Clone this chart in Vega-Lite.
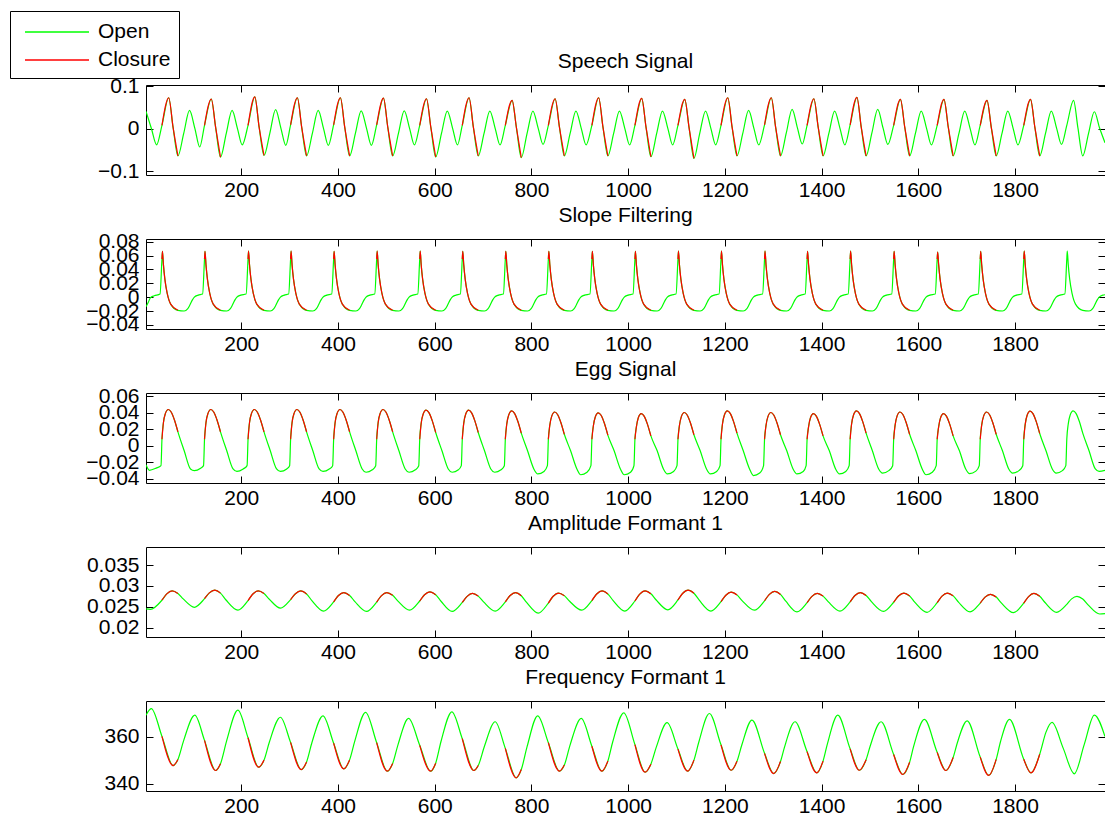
{
"$schema": "https://vega.github.io/schema/vega-lite/v6.json",
"background": "white",
"padding": {"left": 9, "top": 10, "right": 0, "bottom": 0},
"bounds": "flush",
"spacing": 64,
"datasets": {
"speech": [{"x":3,"y":0.041},{"x":14,"y":0.001},{"x":25,"y":-0.038},
{"x":36,"y":0.008,"c":0},{"x":50,"y":0.073,"c":0},{"x":59,"y":0.003,"c":0},{"x":69,"y":-0.064,"c":0},{"x":81,"y":-0.011},{"x":93,"y":0.043},{"x":104,"y":0.001},{"x":114,"y":-0.043},
{"x":124,"y":0.008,"c":1},{"x":138,"y":0.070,"c":1},{"x":147,"y":0.003,"c":1},{"x":157,"y":-0.067,"c":1},{"x":169,"y":-0.011},{"x":181,"y":0.043},{"x":192,"y":0.001},{"x":202,"y":-0.038},
{"x":214,"y":0.008,"c":2},{"x":228,"y":0.075,"c":2},{"x":237,"y":0.003,"c":2},{"x":247,"y":-0.063,"c":2},{"x":259,"y":-0.011},{"x":271,"y":0.045},{"x":282,"y":0.001},{"x":292,"y":-0.039},
{"x":302,"y":0.009,"c":3},{"x":316,"y":0.073,"c":3},{"x":325,"y":0.003,"c":3},{"x":335,"y":-0.064,"c":3},{"x":347,"y":-0.011},{"x":359,"y":0.043},{"x":370,"y":0.001},{"x":380,"y":-0.039},
{"x":391,"y":0.009,"c":4},{"x":405,"y":0.073,"c":4},{"x":414,"y":0.003,"c":4},{"x":424,"y":-0.064,"c":4},{"x":436,"y":-0.011},{"x":448,"y":0.042},{"x":459,"y":0.001},{"x":469,"y":-0.039},
{"x":480,"y":0.009,"c":5},{"x":494,"y":0.072,"c":5},{"x":503,"y":0.003,"c":5},{"x":513,"y":-0.064,"c":5},{"x":525,"y":-0.011},{"x":537,"y":0.042},{"x":548,"y":0.001},{"x":558,"y":-0.038},
{"x":569,"y":0.008,"c":6},{"x":583,"y":0.0706,"c":6},{"x":592,"y":0.003,"c":6},{"x":602,"y":-0.0666,"c":6},{"x":614,"y":-0.011},{"x":626,"y":0.0416},{"x":637,"y":0.001},{"x":647,"y":-0.038},
{"x":657,"y":0.008,"c":7},{"x":671,"y":0.073,"c":7},{"x":680,"y":0.003,"c":7},{"x":690,"y":-0.064,"c":7},{"x":702,"y":-0.011},{"x":714,"y":0.0416},{"x":725,"y":0.001},{"x":735,"y":-0.038},
{"x":746,"y":0.008,"c":8},{"x":760,"y":0.067,"c":8},{"x":769,"y":0.002,"c":8},{"x":779,"y":-0.068,"c":8},{"x":791,"y":-0.011},{"x":803,"y":0.0416},{"x":814,"y":0.001},{"x":824,"y":-0.037},
{"x":835,"y":0.008,"c":9},{"x":849,"y":0.0706,"c":9},{"x":858,"y":0.003,"c":9},{"x":868,"y":-0.064,"c":9},{"x":880,"y":-0.011},{"x":892,"y":0.0416},{"x":903,"y":0.001},{"x":913,"y":-0.038},
{"x":925,"y":0.008,"c":10},{"x":939,"y":0.073,"c":10},{"x":948,"y":0.003,"c":10},{"x":958,"y":-0.064,"c":10},{"x":970,"y":-0.011},{"x":982,"y":0.0416},{"x":993,"y":0.001},{"x":1003,"y":-0.038},
{"x":1014,"y":0.008,"c":11},{"x":1028,"y":0.0715,"c":11},{"x":1037,"y":0.003,"c":11},{"x":1047,"y":-0.066,"c":11},{"x":1059,"y":-0.011},{"x":1071,"y":0.0416},{"x":1082,"y":0.001},{"x":1092,"y":-0.038},
{"x":1103,"y":0.008,"c":12},{"x":1117,"y":0.069,"c":12},{"x":1126,"y":0.002,"c":12},{"x":1136,"y":-0.070,"c":12},{"x":1148,"y":-0.011},{"x":1160,"y":0.0416},{"x":1171,"y":0.001},{"x":1181,"y":-0.038},
{"x":1192,"y":0.008,"c":13},{"x":1206,"y":0.073,"c":13},{"x":1215,"y":0.003,"c":13},{"x":1225,"y":-0.064,"c":13},{"x":1237,"y":-0.011},{"x":1249,"y":0.043},{"x":1260,"y":0.001},{"x":1270,"y":-0.038},
{"x":1282,"y":0.009,"c":14},{"x":1296,"y":0.073,"c":14},{"x":1305,"y":0.003,"c":14},{"x":1315,"y":-0.064,"c":14},{"x":1327,"y":-0.010},{"x":1339,"y":0.0456},{"x":1350,"y":0.002},{"x":1360,"y":-0.036},
{"x":1370,"y":0.008,"c":15},{"x":1384,"y":0.0706,"c":15},{"x":1393,"y":0.003,"c":15},{"x":1403,"y":-0.064,"c":15},{"x":1415,"y":-0.011},{"x":1427,"y":0.0416},{"x":1438,"y":0.001},{"x":1448,"y":-0.038},
{"x":1459,"y":0.009,"c":16},{"x":1473,"y":0.074,"c":16},{"x":1482,"y":0.003,"c":16},{"x":1492,"y":-0.064,"c":16},{"x":1504,"y":-0.010},{"x":1516,"y":0.0456},{"x":1527,"y":0.002},{"x":1537,"y":-0.037},
{"x":1549,"y":0.008,"c":17},{"x":1563,"y":0.069,"c":17},{"x":1572,"y":0.003,"c":17},{"x":1582,"y":-0.064,"c":17},{"x":1594,"y":-0.011},{"x":1606,"y":0.0416},{"x":1617,"y":0.001},{"x":1627,"y":-0.038},
{"x":1639,"y":0.008,"c":18},{"x":1653,"y":0.069,"c":18},{"x":1662,"y":0.003,"c":18},{"x":1672,"y":-0.064,"c":18},{"x":1684,"y":-0.011},{"x":1696,"y":0.0416},{"x":1707,"y":0.001},{"x":1717,"y":-0.038},
{"x":1728,"y":0.008,"c":19},{"x":1742,"y":0.067,"c":19},{"x":1751,"y":0.002,"c":19},{"x":1761,"y":-0.064,"c":19},{"x":1773,"y":-0.011},{"x":1785,"y":0.0416},{"x":1796,"y":0.001},{"x":1806,"y":-0.038},
{"x":1818,"y":0.008,"c":20},{"x":1832,"y":0.069,"c":20},{"x":1841,"y":0.003,"c":20},{"x":1851,"y":-0.064,"c":20},{"x":1863,"y":-0.011},{"x":1875,"y":0.0416},{"x":1886,"y":0.001},{"x":1896,"y":-0.037},
{"x":1907,"y":0.008},{"x":1921,"y":0.067},{"x":1930,"y":0.002},{"x":1940,"y":-0.064},{"x":1952,"y":-0.011},{"x":1964,"y":0.040},{"x":1975,"y":0.001},{"x":1986,"y":-0.033}],
"slope": [{"x":3,"y":-0.014},{"x":8,"y":-0.007},{"x":12,"y":-0.001},{"x":20,"y":0.002},{"x":32,"y":0.0045},
{"x":36,"y":0.055,"c":0},{"x":37,"y":0.066,"c":0},{"x":39,"y":0.047,"c":0},{"x":42,"y":0.026,"c":0},{"x":47,"y":0.005,"c":0},{"x":54,"y":-0.010,"c":0},{"x":69,"y":-0.019,"c":0},{"x":82,"y":-0.020},{"x":89,"y":-0.017},{"x":94,"y":-0.011},{"x":99,"y":-0.004},{"x":103,"y":0.000},{"x":111,"y":0.003},{"x":120,"y":0.0045},
{"x":124,"y":0.055,"c":1},{"x":125,"y":0.066,"c":1},{"x":127,"y":0.047,"c":1},{"x":130,"y":0.026,"c":1},{"x":135,"y":0.005,"c":1},{"x":142,"y":-0.010,"c":1},{"x":157,"y":-0.019,"c":1},{"x":170,"y":-0.020},{"x":177,"y":-0.017},{"x":182,"y":-0.011},{"x":187,"y":-0.004},{"x":191,"y":0.000},{"x":199,"y":0.003},{"x":210,"y":0.0045},
{"x":214,"y":0.055,"c":2},{"x":215,"y":0.0667,"c":2},{"x":217,"y":0.047,"c":2},{"x":220,"y":0.026,"c":2},{"x":225,"y":0.005,"c":2},{"x":232,"y":-0.010,"c":2},{"x":247,"y":-0.019,"c":2},{"x":260,"y":-0.020},{"x":267,"y":-0.017},{"x":272,"y":-0.011},{"x":277,"y":-0.004},{"x":281,"y":0.000},{"x":289,"y":0.003},{"x":298,"y":0.0045},
{"x":302,"y":0.055,"c":3},{"x":303,"y":0.0667,"c":3},{"x":305,"y":0.047,"c":3},{"x":308,"y":0.026,"c":3},{"x":313,"y":0.005,"c":3},{"x":320,"y":-0.010,"c":3},{"x":335,"y":-0.019,"c":3},{"x":348,"y":-0.020},{"x":355,"y":-0.017},{"x":360,"y":-0.011},{"x":365,"y":-0.004},{"x":369,"y":0.000},{"x":377,"y":0.003},{"x":387,"y":0.0045},
{"x":391,"y":0.055,"c":4},{"x":392,"y":0.066,"c":4},{"x":394,"y":0.047,"c":4},{"x":397,"y":0.026,"c":4},{"x":402,"y":0.005,"c":4},{"x":409,"y":-0.010,"c":4},{"x":424,"y":-0.019,"c":4},{"x":437,"y":-0.020},{"x":444,"y":-0.017},{"x":449,"y":-0.011},{"x":454,"y":-0.004},{"x":458,"y":0.000},{"x":466,"y":0.003},{"x":476,"y":0.0045},
{"x":480,"y":0.055,"c":5},{"x":481,"y":0.0667,"c":5},{"x":483,"y":0.047,"c":5},{"x":486,"y":0.026,"c":5},{"x":491,"y":0.005,"c":5},{"x":498,"y":-0.010,"c":5},{"x":513,"y":-0.019,"c":5},{"x":526,"y":-0.020},{"x":533,"y":-0.017},{"x":538,"y":-0.011},{"x":543,"y":-0.004},{"x":547,"y":0.000},{"x":555,"y":0.003},{"x":565,"y":0.0045},
{"x":569,"y":0.055,"c":6},{"x":570,"y":0.0667,"c":6},{"x":572,"y":0.047,"c":6},{"x":575,"y":0.026,"c":6},{"x":580,"y":0.005,"c":6},{"x":587,"y":-0.010,"c":6},{"x":602,"y":-0.019,"c":6},{"x":615,"y":-0.020},{"x":622,"y":-0.017},{"x":627,"y":-0.011},{"x":632,"y":-0.004},{"x":636,"y":0.000},{"x":644,"y":0.003},{"x":653,"y":0.0045},
{"x":657,"y":0.055,"c":7},{"x":658,"y":0.066,"c":7},{"x":660,"y":0.047,"c":7},{"x":663,"y":0.026,"c":7},{"x":668,"y":0.005,"c":7},{"x":675,"y":-0.010,"c":7},{"x":690,"y":-0.019,"c":7},{"x":703,"y":-0.020},{"x":710,"y":-0.017},{"x":715,"y":-0.011},{"x":720,"y":-0.004},{"x":724,"y":0.000},{"x":732,"y":0.003},{"x":742,"y":0.0045},
{"x":746,"y":0.055,"c":8},{"x":747,"y":0.066,"c":8},{"x":749,"y":0.047,"c":8},{"x":752,"y":0.026,"c":8},{"x":757,"y":0.005,"c":8},{"x":764,"y":-0.010,"c":8},{"x":779,"y":-0.019,"c":8},{"x":792,"y":-0.020},{"x":799,"y":-0.017},{"x":804,"y":-0.011},{"x":809,"y":-0.004},{"x":813,"y":0.000},{"x":821,"y":0.003},{"x":831,"y":0.0045},
{"x":835,"y":0.055,"c":9},{"x":836,"y":0.066,"c":9},{"x":838,"y":0.047,"c":9},{"x":841,"y":0.026,"c":9},{"x":846,"y":0.005,"c":9},{"x":853,"y":-0.010,"c":9},{"x":868,"y":-0.019,"c":9},{"x":881,"y":-0.020},{"x":888,"y":-0.017},{"x":893,"y":-0.011},{"x":898,"y":-0.004},{"x":902,"y":0.000},{"x":910,"y":0.003},{"x":921,"y":0.0045},
{"x":925,"y":0.055,"c":10},{"x":926,"y":0.066,"c":10},{"x":928,"y":0.047,"c":10},{"x":931,"y":0.026,"c":10},{"x":936,"y":0.005,"c":10},{"x":943,"y":-0.010,"c":10},{"x":958,"y":-0.019,"c":10},{"x":971,"y":-0.020},{"x":978,"y":-0.017},{"x":983,"y":-0.011},{"x":988,"y":-0.004},{"x":992,"y":0.000},{"x":1000,"y":0.003},{"x":1010,"y":0.0045},
{"x":1014,"y":0.055,"c":11},{"x":1015,"y":0.066,"c":11},{"x":1017,"y":0.047,"c":11},{"x":1020,"y":0.026,"c":11},{"x":1025,"y":0.005,"c":11},{"x":1032,"y":-0.010,"c":11},{"x":1047,"y":-0.019,"c":11},{"x":1060,"y":-0.020},{"x":1067,"y":-0.017},{"x":1072,"y":-0.011},{"x":1077,"y":-0.004},{"x":1081,"y":0.000},{"x":1089,"y":0.003},{"x":1099,"y":0.0045},
{"x":1103,"y":0.055,"c":12},{"x":1104,"y":0.0667,"c":12},{"x":1106,"y":0.047,"c":12},{"x":1109,"y":0.026,"c":12},{"x":1114,"y":0.005,"c":12},{"x":1121,"y":-0.010,"c":12},{"x":1136,"y":-0.019,"c":12},{"x":1149,"y":-0.020},{"x":1156,"y":-0.017},{"x":1161,"y":-0.011},{"x":1166,"y":-0.004},{"x":1170,"y":0.000},{"x":1178,"y":0.003},{"x":1188,"y":0.0045},
{"x":1192,"y":0.055,"c":13},{"x":1193,"y":0.0667,"c":13},{"x":1195,"y":0.047,"c":13},{"x":1198,"y":0.026,"c":13},{"x":1203,"y":0.005,"c":13},{"x":1210,"y":-0.010,"c":13},{"x":1225,"y":-0.019,"c":13},{"x":1238,"y":-0.020},{"x":1245,"y":-0.017},{"x":1250,"y":-0.011},{"x":1255,"y":-0.004},{"x":1259,"y":0.000},{"x":1267,"y":0.003},{"x":1278,"y":0.0045},
{"x":1282,"y":0.055,"c":14},{"x":1283,"y":0.0667,"c":14},{"x":1285,"y":0.047,"c":14},{"x":1288,"y":0.026,"c":14},{"x":1293,"y":0.005,"c":14},{"x":1300,"y":-0.010,"c":14},{"x":1315,"y":-0.019,"c":14},{"x":1328,"y":-0.020},{"x":1335,"y":-0.017},{"x":1340,"y":-0.011},{"x":1345,"y":-0.004},{"x":1349,"y":0.000},{"x":1357,"y":0.003},{"x":1366,"y":0.0045},
{"x":1370,"y":0.055,"c":15},{"x":1371,"y":0.066,"c":15},{"x":1373,"y":0.047,"c":15},{"x":1376,"y":0.026,"c":15},{"x":1381,"y":0.005,"c":15},{"x":1388,"y":-0.010,"c":15},{"x":1403,"y":-0.019,"c":15},{"x":1416,"y":-0.020},{"x":1423,"y":-0.017},{"x":1428,"y":-0.011},{"x":1433,"y":-0.004},{"x":1437,"y":0.000},{"x":1445,"y":0.003},{"x":1455,"y":0.0045},
{"x":1459,"y":0.055,"c":16},{"x":1460,"y":0.0667,"c":16},{"x":1462,"y":0.047,"c":16},{"x":1465,"y":0.026,"c":16},{"x":1470,"y":0.005,"c":16},{"x":1477,"y":-0.010,"c":16},{"x":1492,"y":-0.019,"c":16},{"x":1505,"y":-0.020},{"x":1512,"y":-0.017},{"x":1517,"y":-0.011},{"x":1522,"y":-0.004},{"x":1526,"y":0.000},{"x":1534,"y":0.003},{"x":1545,"y":0.0045},
{"x":1549,"y":0.055,"c":17},{"x":1550,"y":0.066,"c":17},{"x":1552,"y":0.047,"c":17},{"x":1555,"y":0.026,"c":17},{"x":1560,"y":0.005,"c":17},{"x":1567,"y":-0.010,"c":17},{"x":1582,"y":-0.019,"c":17},{"x":1595,"y":-0.020},{"x":1602,"y":-0.017},{"x":1607,"y":-0.011},{"x":1612,"y":-0.004},{"x":1616,"y":0.000},{"x":1624,"y":0.003},{"x":1635,"y":0.0045},
{"x":1639,"y":0.055,"c":18},{"x":1640,"y":0.065,"c":18},{"x":1642,"y":0.047,"c":18},{"x":1645,"y":0.026,"c":18},{"x":1650,"y":0.005,"c":18},{"x":1657,"y":-0.010,"c":18},{"x":1672,"y":-0.019,"c":18},{"x":1685,"y":-0.020},{"x":1692,"y":-0.017},{"x":1697,"y":-0.011},{"x":1702,"y":-0.004},{"x":1706,"y":0.000},{"x":1714,"y":0.003},{"x":1724,"y":0.0045},
{"x":1728,"y":0.055,"c":19},{"x":1729,"y":0.066,"c":19},{"x":1731,"y":0.047,"c":19},{"x":1734,"y":0.026,"c":19},{"x":1739,"y":0.005,"c":19},{"x":1746,"y":-0.010,"c":19},{"x":1761,"y":-0.019,"c":19},{"x":1774,"y":-0.020},{"x":1781,"y":-0.017},{"x":1786,"y":-0.011},{"x":1791,"y":-0.004},{"x":1795,"y":0.000},{"x":1803,"y":0.003},{"x":1814,"y":0.0045},
{"x":1818,"y":0.055,"c":20},{"x":1819,"y":0.0667,"c":20},{"x":1821,"y":0.047,"c":20},{"x":1824,"y":0.026,"c":20},{"x":1829,"y":0.005,"c":20},{"x":1836,"y":-0.010,"c":20},{"x":1851,"y":-0.019,"c":20},{"x":1864,"y":-0.020},{"x":1871,"y":-0.017},{"x":1876,"y":-0.011},{"x":1881,"y":-0.004},{"x":1885,"y":0.000},{"x":1893,"y":0.003},{"x":1903,"y":0.0045},
{"x":1907,"y":0.055},{"x":1908,"y":0.0667},{"x":1910,"y":0.047},{"x":1913,"y":0.026},{"x":1918,"y":0.005},{"x":1925,"y":-0.010},{"x":1940,"y":-0.019},{"x":1953,"y":-0.020},{"x":1960,"y":-0.017},{"x":1965,"y":-0.011},{"x":1970,"y":-0.004},{"x":1974,"y":0.000},{"x":1982,"y":0.003},{"x":1986,"y":0.0035}],
"egg": [{"x":3,"y":-0.023},{"x":10,"y":-0.0296},{"x":24,"y":-0.027},
{"x":34,"y":-0.024},{"x":36,"y":0.008,"c":0},{"x":39,"y":0.028,"c":0},{"x":43,"y":0.039,"c":0},{"x":49,"y":0.044,"c":0},{"x":55,"y":0.041,"c":0},{"x":62,"y":0.031,"c":0},{"x":69,"y":0.017,"c":0},{"x":82,"y":-0.006},{"x":95,"y":-0.028},{"x":103,"y":-0.030},{"x":116,"y":-0.027},
{"x":122,"y":-0.024},{"x":124,"y":0.008,"c":1},{"x":127,"y":0.028,"c":1},{"x":131,"y":0.039,"c":1},{"x":137,"y":0.044,"c":1},{"x":143,"y":0.041,"c":1},{"x":150,"y":0.031,"c":1},{"x":157,"y":0.017,"c":1},{"x":170,"y":-0.006},{"x":183,"y":-0.028},{"x":191,"y":-0.031},{"x":204,"y":-0.028},
{"x":212,"y":-0.024},{"x":214,"y":0.008,"c":2},{"x":217,"y":0.028,"c":2},{"x":221,"y":0.039,"c":2},{"x":227,"y":0.044,"c":2},{"x":233,"y":0.041,"c":2},{"x":240,"y":0.031,"c":2},{"x":247,"y":0.017,"c":2},{"x":260,"y":-0.006},{"x":273,"y":-0.028},{"x":281,"y":-0.031},{"x":294,"y":-0.028},
{"x":300,"y":-0.024},{"x":302,"y":0.008,"c":3},{"x":305,"y":0.028,"c":3},{"x":309,"y":0.039,"c":3},{"x":315,"y":0.044,"c":3},{"x":321,"y":0.041,"c":3},{"x":328,"y":0.031,"c":3},{"x":335,"y":0.017,"c":3},{"x":348,"y":-0.006},{"x":361,"y":-0.028},{"x":369,"y":-0.031},{"x":382,"y":-0.028},
{"x":389,"y":-0.024},{"x":391,"y":0.008,"c":4},{"x":394,"y":0.028,"c":4},{"x":398,"y":0.039,"c":4},{"x":404,"y":0.044,"c":4},{"x":410,"y":0.041,"c":4},{"x":417,"y":0.031,"c":4},{"x":424,"y":0.017,"c":4},{"x":437,"y":-0.006},{"x":450,"y":-0.028},{"x":458,"y":-0.032},{"x":471,"y":-0.029},
{"x":478,"y":-0.024},{"x":480,"y":0.008,"c":5},{"x":483,"y":0.028,"c":5},{"x":487,"y":0.039,"c":5},{"x":493,"y":0.044,"c":5},{"x":499,"y":0.041,"c":5},{"x":506,"y":0.031,"c":5},{"x":513,"y":0.017,"c":5},{"x":526,"y":-0.006},{"x":539,"y":-0.028},{"x":547,"y":-0.032},{"x":560,"y":-0.029},
{"x":567,"y":-0.024},{"x":569,"y":0.008,"c":6},{"x":572,"y":0.0272,"c":6},{"x":576,"y":0.0382,"c":6},{"x":582,"y":0.0432,"c":6},{"x":588,"y":0.0402,"c":6},{"x":595,"y":0.0302,"c":6},{"x":602,"y":0.0162,"c":6},{"x":615,"y":-0.006},{"x":628,"y":-0.028},{"x":636,"y":-0.032},{"x":649,"y":-0.029},
{"x":655,"y":-0.024},{"x":657,"y":0.008,"c":7},{"x":660,"y":0.0272,"c":7},{"x":664,"y":0.0382,"c":7},{"x":670,"y":0.0432,"c":7},{"x":676,"y":0.0402,"c":7},{"x":683,"y":0.0302,"c":7},{"x":690,"y":0.0162,"c":7},{"x":703,"y":-0.006},{"x":716,"y":-0.028},{"x":724,"y":-0.032},{"x":737,"y":-0.029},
{"x":744,"y":-0.024},{"x":746,"y":0.008,"c":8},{"x":749,"y":0.0264,"c":8},{"x":753,"y":0.0374,"c":8},{"x":759,"y":0.0424,"c":8},{"x":765,"y":0.0394,"c":8},{"x":772,"y":0.0294,"c":8},{"x":779,"y":0.0154,"c":8},{"x":792,"y":-0.006},{"x":805,"y":-0.028},{"x":813,"y":-0.034},{"x":826,"y":-0.031},
{"x":833,"y":-0.024},{"x":835,"y":0.008,"c":9},{"x":838,"y":0.025,"c":9},{"x":842,"y":0.036,"c":9},{"x":848,"y":0.041,"c":9},{"x":854,"y":0.038,"c":9},{"x":861,"y":0.028,"c":9},{"x":868,"y":0.014,"c":9},{"x":881,"y":-0.006},{"x":894,"y":-0.028},{"x":902,"y":-0.035},{"x":915,"y":-0.032},
{"x":923,"y":-0.024},{"x":925,"y":0.008,"c":10},{"x":928,"y":0.024,"c":10},{"x":932,"y":0.035,"c":10},{"x":938,"y":0.040,"c":10},{"x":944,"y":0.037,"c":10},{"x":951,"y":0.027,"c":10},{"x":958,"y":0.013,"c":10},{"x":971,"y":-0.006},{"x":984,"y":-0.028},{"x":992,"y":-0.035},{"x":1005,"y":-0.032},
{"x":1012,"y":-0.024},{"x":1014,"y":0.008,"c":11},{"x":1017,"y":0.023,"c":11},{"x":1021,"y":0.034,"c":11},{"x":1027,"y":0.039,"c":11},{"x":1033,"y":0.036,"c":11},{"x":1040,"y":0.026,"c":11},{"x":1047,"y":0.012,"c":11},{"x":1060,"y":-0.006},{"x":1073,"y":-0.028},{"x":1081,"y":-0.034},{"x":1094,"y":-0.031},
{"x":1101,"y":-0.024},{"x":1103,"y":0.008,"c":12},{"x":1106,"y":0.0244,"c":12},{"x":1110,"y":0.0354,"c":12},{"x":1116,"y":0.0404,"c":12},{"x":1122,"y":0.0374,"c":12},{"x":1129,"y":0.0274,"c":12},{"x":1136,"y":0.0134,"c":12},{"x":1149,"y":-0.006},{"x":1162,"y":-0.028},{"x":1170,"y":-0.034},{"x":1183,"y":-0.031},
{"x":1190,"y":-0.024},{"x":1192,"y":0.008,"c":13},{"x":1195,"y":0.0264,"c":13},{"x":1199,"y":0.0374,"c":13},{"x":1205,"y":0.0424,"c":13},{"x":1211,"y":0.0394,"c":13},{"x":1218,"y":0.0294,"c":13},{"x":1225,"y":0.0154,"c":13},{"x":1238,"y":-0.006},{"x":1251,"y":-0.028},{"x":1259,"y":-0.036},{"x":1272,"y":-0.033},
{"x":1280,"y":-0.024},{"x":1282,"y":0.008,"c":14},{"x":1285,"y":0.0244,"c":14},{"x":1289,"y":0.0354,"c":14},{"x":1295,"y":0.0404,"c":14},{"x":1301,"y":0.0374,"c":14},{"x":1308,"y":0.0274,"c":14},{"x":1315,"y":0.0134,"c":14},{"x":1328,"y":-0.006},{"x":1341,"y":-0.028},{"x":1349,"y":-0.034},{"x":1362,"y":-0.031},
{"x":1368,"y":-0.024},{"x":1370,"y":0.008,"c":15},{"x":1373,"y":0.023,"c":15},{"x":1377,"y":0.034,"c":15},{"x":1383,"y":0.039,"c":15},{"x":1389,"y":0.036,"c":15},{"x":1396,"y":0.026,"c":15},{"x":1403,"y":0.012,"c":15},{"x":1416,"y":-0.006},{"x":1429,"y":-0.028},{"x":1437,"y":-0.034},{"x":1450,"y":-0.031},
{"x":1457,"y":-0.024},{"x":1459,"y":0.008,"c":16},{"x":1462,"y":0.0264,"c":16},{"x":1466,"y":0.0374,"c":16},{"x":1472,"y":0.0424,"c":16},{"x":1478,"y":0.0394,"c":16},{"x":1485,"y":0.0294,"c":16},{"x":1492,"y":0.0154,"c":16},{"x":1505,"y":-0.006},{"x":1518,"y":-0.028},{"x":1526,"y":-0.033},{"x":1539,"y":-0.030},
{"x":1547,"y":-0.024},{"x":1549,"y":0.008,"c":17},{"x":1552,"y":0.025,"c":17},{"x":1556,"y":0.036,"c":17},{"x":1562,"y":0.041,"c":17},{"x":1568,"y":0.038,"c":17},{"x":1575,"y":0.028,"c":17},{"x":1582,"y":0.014,"c":17},{"x":1595,"y":-0.006},{"x":1608,"y":-0.028},{"x":1616,"y":-0.035},{"x":1629,"y":-0.032},
{"x":1637,"y":-0.024},{"x":1639,"y":0.008,"c":18},{"x":1642,"y":0.023,"c":18},{"x":1646,"y":0.034,"c":18},{"x":1652,"y":0.039,"c":18},{"x":1658,"y":0.036,"c":18},{"x":1665,"y":0.026,"c":18},{"x":1672,"y":0.012,"c":18},{"x":1685,"y":-0.006},{"x":1698,"y":-0.028},{"x":1706,"y":-0.0336},{"x":1719,"y":-0.0306},
{"x":1726,"y":-0.024},{"x":1728,"y":0.008,"c":19},{"x":1731,"y":0.025,"c":19},{"x":1735,"y":0.036,"c":19},{"x":1741,"y":0.041,"c":19},{"x":1747,"y":0.038,"c":19},{"x":1754,"y":0.028,"c":19},{"x":1761,"y":0.014,"c":19},{"x":1774,"y":-0.006},{"x":1787,"y":-0.028},{"x":1795,"y":-0.033},{"x":1808,"y":-0.030},
{"x":1816,"y":-0.024},{"x":1818,"y":0.008,"c":20},{"x":1821,"y":0.026,"c":20},{"x":1825,"y":0.037,"c":20},{"x":1831,"y":0.042,"c":20},{"x":1837,"y":0.039,"c":20},{"x":1844,"y":0.029,"c":20},{"x":1851,"y":0.015,"c":20},{"x":1864,"y":-0.006},{"x":1877,"y":-0.028},{"x":1885,"y":-0.033},{"x":1898,"y":-0.030},
{"x":1905,"y":-0.024},{"x":1907,"y":0.008},{"x":1910,"y":0.0264},{"x":1914,"y":0.0374},{"x":1920,"y":0.0424},{"x":1926,"y":0.0394},{"x":1933,"y":0.0294},{"x":1940,"y":0.0154},{"x":1953,"y":-0.006},{"x":1966,"y":-0.028},{"x":1974,"y":-0.031},{"x":1986,"y":-0.0296}],
"amp": [{"x":3,"y":0.0245},{"x":12,"y":0.0244},
{"x":36,"y":0.0266,"c":0},{"x":46,"y":0.0281,"c":0},{"x":57,"y":0.0288,"c":0},{"x":69,"y":0.0282,"c":0},{"x":80,"y":0.0269},{"x":103,"y":0.0249},
{"x":124,"y":0.02695,"c":1},{"x":134,"y":0.02834,"c":1},{"x":145,"y":0.0290,"c":1},{"x":157,"y":0.02828,"c":1},{"x":168,"y":0.0267},{"x":193,"y":0.0242},
{"x":214,"y":0.0265,"c":2},{"x":224,"y":0.02806,"c":2},{"x":235,"y":0.0288,"c":2},{"x":247,"y":0.02818,"c":2},{"x":258,"y":0.02683},{"x":281,"y":0.0247},
{"x":302,"y":0.02675,"c":3},{"x":312,"y":0.02814,"c":3},{"x":323,"y":0.0288,"c":3},{"x":335,"y":0.02808,"c":3},{"x":346,"y":0.0265},{"x":370,"y":0.0240},
{"x":391,"y":0.0262,"c":4},{"x":401,"y":0.0277,"c":4},{"x":412,"y":0.0284,"c":4},{"x":424,"y":0.02773,"c":4},{"x":435,"y":0.02624},{"x":459,"y":0.0239},
{"x":480,"y":0.02615,"c":5},{"x":490,"y":0.02768,"c":5},{"x":501,"y":0.0284,"c":5},{"x":513,"y":0.02777,"c":5},{"x":524,"y":0.02638},{"x":548,"y":0.0242},
{"x":569,"y":0.0264,"c":6},{"x":579,"y":0.0279,"c":6},{"x":590,"y":0.0286,"c":6},{"x":602,"y":0.0279,"c":6},{"x":613,"y":0.02634},{"x":636,"y":0.0239},
{"x":657,"y":0.02605,"c":7},{"x":667,"y":0.02751,"c":7},{"x":678,"y":0.0282,"c":7},{"x":690,"y":0.02757,"c":7},{"x":701,"y":0.0262},{"x":725,"y":0.0240},
{"x":746,"y":0.0262,"c":8},{"x":756,"y":0.0277,"c":8},{"x":767,"y":0.0284,"c":8},{"x":779,"y":0.02767,"c":8},{"x":790,"y":0.02605},{"x":814,"y":0.0235},
{"x":835,"y":0.0259,"c":9},{"x":845,"y":0.02753,"c":9},{"x":856,"y":0.0283,"c":9},{"x":868,"y":0.02768,"c":9},{"x":879,"y":0.02633},{"x":904,"y":0.0242},
{"x":925,"y":0.0265,"c":10},{"x":935,"y":0.02806,"c":10},{"x":946,"y":0.0288,"c":10},{"x":958,"y":0.02808,"c":10},{"x":969,"y":0.0265},{"x":993,"y":0.0240},
{"x":1014,"y":0.0264,"c":11},{"x":1024,"y":0.02803,"c":11},{"x":1035,"y":0.0288,"c":11},{"x":1047,"y":0.02813,"c":11},{"x":1058,"y":0.02664},{"x":1082,"y":0.0243},
{"x":1103,"y":0.02665,"c":12},{"x":1113,"y":0.02825,"c":12},{"x":1124,"y":0.0290,"c":12},{"x":1136,"y":0.02825,"c":12},{"x":1147,"y":0.0266},{"x":1171,"y":0.0240},
{"x":1192,"y":0.02625,"c":13},{"x":1202,"y":0.02778,"c":13},{"x":1213,"y":0.0285,"c":13},{"x":1225,"y":0.02786,"c":13},{"x":1236,"y":0.02644},{"x":1261,"y":0.0242},
{"x":1282,"y":0.02645,"c":14},{"x":1292,"y":0.02798,"c":14},{"x":1303,"y":0.0287,"c":14},{"x":1315,"y":0.02797,"c":14},{"x":1326,"y":0.02635},{"x":1349,"y":0.0238},
{"x":1370,"y":0.0260,"c":15},{"x":1380,"y":0.0275,"c":15},{"x":1391,"y":0.0282,"c":15},{"x":1403,"y":0.02757,"c":15},{"x":1414,"y":0.0262},{"x":1438,"y":0.0240},
{"x":1459,"y":0.0262,"c":16},{"x":1469,"y":0.0277,"c":16},{"x":1480,"y":0.0284,"c":16},{"x":1492,"y":0.02773,"c":16},{"x":1503,"y":0.02624},{"x":1528,"y":0.0239},
{"x":1549,"y":0.0261,"c":17},{"x":1559,"y":0.0276,"c":17},{"x":1570,"y":0.0283,"c":17},{"x":1582,"y":0.02761,"c":17},{"x":1593,"y":0.02609},{"x":1618,"y":0.0237},
{"x":1639,"y":0.0260,"c":18},{"x":1649,"y":0.02756,"c":18},{"x":1660,"y":0.0283,"c":18},{"x":1672,"y":0.02763,"c":18},{"x":1683,"y":0.02614},{"x":1707,"y":0.0238},
{"x":1728,"y":0.0259,"c":19},{"x":1738,"y":0.02733,"c":19},{"x":1749,"y":0.0280,"c":19},{"x":1761,"y":0.02734,"c":19},{"x":1772,"y":0.02589},{"x":1797,"y":0.0236},
{"x":1818,"y":0.0259,"c":20},{"x":1828,"y":0.02746,"c":20},{"x":1839,"y":0.0282,"c":20},{"x":1851,"y":0.02753,"c":20},{"x":1862,"y":0.02604},{"x":1886,"y":0.0237},
{"x":1907,"y":0.0256},{"x":1917,"y":0.0269},{"x":1928,"y":0.0275},{"x":1940,"y":0.02687},{"x":1951,"y":0.02548},{"x":1975,"y":0.0233},{"x":1986,"y":0.0234}],
"freq": [{"x":3,"y":369.1},
{"x":14,"y":371.9},{"x":36,"y":360.1,"c":0},{"x":59,"y":347.7,"c":0},{"x":69,"y":350.3,"c":0},{"x":81,"y":358.4},
{"x":104,"y":369.1},{"x":124,"y":358.4,"c":1},{"x":147,"y":345.6,"c":1},{"x":157,"y":348.5,"c":1},{"x":170,"y":358.4},
{"x":193,"y":371.2},{"x":214,"y":359.5,"c":2},{"x":236,"y":347.0,"c":2},{"x":247,"y":350.0,"c":2},{"x":258,"y":357.6},
{"x":281,"y":368.2},{"x":302,"y":357.5,"c":3},{"x":324,"y":346.0,"c":3},{"x":335,"y":349.2,"c":3},{"x":346,"y":357.4},
{"x":369,"y":368.8},{"x":391,"y":357.2,"c":4},{"x":412,"y":346.3,"c":4},{"x":424,"y":350.1,"c":4},{"x":435,"y":358.3},
{"x":457,"y":370.3},{"x":480,"y":357.4,"c":5},{"x":502,"y":345.3,"c":5},{"x":513,"y":348.6,"c":5},{"x":524,"y":356.5},
{"x":546,"y":367.7},{"x":569,"y":356.3,"c":6},{"x":591.5,"y":345.3,"c":6},{"x":602,"y":348.7,"c":6},{"x":613,"y":357.9},
{"x":635.5,"y":370.5},{"x":657,"y":359.1,"c":7},{"x":681,"y":345.6,"c":7},{"x":690,"y":347.7,"c":7},{"x":703,"y":356.0},
{"x":725,"y":366.3},{"x":746,"y":355.0,"c":8},{"x":768.5,"y":342.5,"c":8},{"x":779,"y":346.0,"c":8},{"x":791,"y":355.7},
{"x":813,"y":368.8},{"x":835,"y":357.4,"c":9},{"x":858,"y":345.3,"c":9},{"x":868,"y":347.9,"c":9},{"x":880,"y":356.5},
{"x":903,"y":367.7},{"x":925,"y":355.9,"c":10},{"x":945.6,"y":345.3,"c":10},{"x":958,"y":349.6,"c":10},{"x":968,"y":357.7},
{"x":991,"y":370.1},{"x":1014,"y":356.6,"c":11},{"x":1035,"y":344.9,"c":11},{"x":1047,"y":348.3,"c":11},{"x":1058,"y":355.4},
{"x":1080.6,"y":365.9},{"x":1103,"y":354.7,"c":12},{"x":1123,"y":345.3,"c":12},{"x":1136,"y":350.0,"c":12},{"x":1146,"y":357.6},
{"x":1168,"y":369.8},{"x":1192,"y":356.5,"c":13},{"x":1213,"y":345.7,"c":13},{"x":1225,"y":349.5,"c":13},{"x":1235,"y":356.4},
{"x":1256,"y":367.0},{"x":1282,"y":352.9,"c":14},{"x":1301,"y":344.3,"c":14},{"x":1315,"y":349.4,"c":14},{"x":1323,"y":355.3},
{"x":1345,"y":366.3},{"x":1370,"y":353.6,"c":15},{"x":1390,"y":344.6,"c":15},{"x":1403,"y":349.6,"c":15},{"x":1412,"y":356.9},
{"x":1433.5,"y":369.1},{"x":1459,"y":354.8,"c":16},{"x":1478,"y":345.7,"c":16},{"x":1492,"y":350.2,"c":16},{"x":1500.5,"y":356.0},
{"x":1523,"y":366.3},{"x":1549,"y":352.4,"c":17},{"x":1568,"y":343.9,"c":17},{"x":1582,"y":349.1,"c":17},{"x":1590,"y":355.6},
{"x":1612.6,"y":367.3},{"x":1639,"y":353.3,"c":18},{"x":1657,"y":345.6,"c":18},{"x":1672,"y":351.1,"c":18},{"x":1681,"y":357.6},
{"x":1701,"y":366.7},{"x":1728,"y":351.3,"c":19},{"x":1745.6,"y":343.5,"c":19},{"x":1761,"y":350.3,"c":19},{"x":1770,"y":357.9},
{"x":1788.5,"y":367.3},{"x":1818,"y":350.4,"c":20},{"x":1833,"y":344.6,"c":20},{"x":1851,"y":352.5,"c":20},{"x":1864,"y":361.9},
{"x":1876.5,"y":366.0},{"x":1899.5,"y":355.1},{"x":1922.6,"y":344.2},{"x":1943,"y":356.6},{"x":1964,"y":369.1},{"x":1986,"y":360.0}]
},
"vconcat": [
{"width":959,"height":90,"data":{"name":"speech"},"title":{"text":"Speech Signal","offset":3},
 "layer":[
  {"mark":{"type":"line","interpolate":"monotone","strokeWidth":1.2,"clip":true},
   "encoding":{"x":{"field":"x","type":"quantitative","title":null,"scale":{"domain":[3,1986],"nice":false,"zero":false},"axis":{"orient":"bottom","format":"d","values":[200,400,600,800,1000,1200,1400,1600,1800]}},
    "y":{"field":"y","type":"quantitative","title":null,"scale":{"domain":[-0.109,0.103],"nice":false,"zero":false},"axis":{"orient":"left","values":[-0.1,0,0.1],"format":"~g"}},
    "color":{"datum":"Open","type":"nominal","scale":{"domain":["Open","Closure"],"range":["#00ff00","#ff0000"]},"legend":{"title":null,"orient":"none","legendX":-136,"legendY":-74,"encoding":{"symbols":{"strokeWidth":{"value":1.5},"opacity":{"value":1},"fill":{"value":"transparent"},"stroke":{"value":{"expr":"scale('color', datum.value)"}}}}}}}},
  {"transform":[{"filter":"isValid(datum.c)"}],"mark":{"type":"line","interpolate":"monotone","strokeWidth":1.2,"clip":true},
   "encoding":{"x":{"field":"x","type":"quantitative","title":null,"axis":{"orient":"top","labels":false,"values":[200,400,600,800,1000,1200,1400,1600,1800]}},
    "y":{"field":"y","type":"quantitative","title":null,"axis":{"orient":"right","labels":false,"values":[-0.1,0,0.1]}},
    "detail":{"field":"c","type":"nominal"},
    "color":{"datum":"Closure","type":"nominal"}}}],
 "resolve":{"axis":{"x":"independent","y":"independent"}}},
{"width":959,"height":90,"data":{"name":"slope"},"title":{"text":"Slope Filtering","offset":5},
 "layer":[
  {"mark":{"type":"line","interpolate":"monotone","strokeWidth":1.2,"clip":true},
   "encoding":{"x":{"field":"x","type":"quantitative","title":null,"scale":{"domain":[3,1986],"nice":false,"zero":false},"axis":{"orient":"bottom","format":"d","values":[200,400,600,800,1000,1200,1400,1600,1800]}},
    "y":{"field":"y","type":"quantitative","title":null,"scale":{"domain":[-0.046,0.084],"nice":false,"zero":false},"axis":{"orient":"left","values":[-0.04,-0.02,0,0.02,0.04,0.06,0.08],"format":"~g"}},
    "color":{"datum":"Open","type":"nominal"}}},
  {"transform":[{"filter":"isValid(datum.c)"}],"mark":{"type":"line","interpolate":"monotone","strokeWidth":1.2,"clip":true},
   "encoding":{"x":{"field":"x","type":"quantitative","title":null,"axis":{"orient":"top","labels":false,"values":[200,400,600,800,1000,1200,1400,1600,1800]}},
    "y":{"field":"y","type":"quantitative","title":null,"axis":{"orient":"right","labels":false,"values":[-0.04,-0.02,0,0.02,0.04,0.06,0.08]}},
    "detail":{"field":"c","type":"nominal"},
    "color":{"datum":"Closure","type":"nominal"}}}],
 "resolve":{"axis":{"x":"independent","y":"independent"}}},
{"width":959,"height":90,"data":{"name":"egg"},"title":{"text":"Egg Signal","offset":5},
 "layer":[
  {"mark":{"type":"line","interpolate":"monotone","strokeWidth":1.2,"clip":true},
   "encoding":{"x":{"field":"x","type":"quantitative","title":null,"scale":{"domain":[3,1986],"nice":false,"zero":false},"axis":{"orient":"bottom","format":"d","values":[200,400,600,800,1000,1200,1400,1600,1800]}},
    "y":{"field":"y","type":"quantitative","title":null,"scale":{"domain":[-0.045,0.064],"nice":false,"zero":false},"axis":{"orient":"left","values":[-0.04,-0.02,0,0.02,0.04,0.06],"format":"~g"}},
    "color":{"datum":"Open","type":"nominal"}}},
  {"transform":[{"filter":"isValid(datum.c)"}],"mark":{"type":"line","interpolate":"monotone","strokeWidth":1.2,"clip":true},
   "encoding":{"x":{"field":"x","type":"quantitative","title":null,"axis":{"orient":"top","labels":false,"values":[200,400,600,800,1000,1200,1400,1600,1800]}},
    "y":{"field":"y","type":"quantitative","title":null,"axis":{"orient":"right","labels":false,"values":[-0.04,-0.02,0,0.02,0.04,0.06]}},
    "detail":{"field":"c","type":"nominal"},
    "color":{"datum":"Closure","type":"nominal"}}}],
 "resolve":{"axis":{"x":"independent","y":"independent"}}},
{"width":959,"height":90,"data":{"name":"amp"},"title":{"text":"Amplitude Formant 1","offset":13},
 "layer":[
  {"mark":{"type":"line","interpolate":"monotone","strokeWidth":1.2,"clip":true},
   "encoding":{"x":{"field":"x","type":"quantitative","title":null,"scale":{"domain":[3,1986],"nice":false,"zero":false},"axis":{"orient":"bottom","format":"d","values":[200,400,600,800,1000,1200,1400,1600,1800]}},
    "y":{"field":"y","type":"quantitative","title":null,"scale":{"domain":[0.0178,0.0393],"nice":false,"zero":false},"axis":{"orient":"left","values":[0.02,0.025,0.03,0.035],"format":"~g"}},
    "color":{"datum":"Open","type":"nominal"}}},
  {"transform":[{"filter":"isValid(datum.c)"}],"mark":{"type":"line","interpolate":"monotone","strokeWidth":1.2,"clip":true},
   "encoding":{"x":{"field":"x","type":"quantitative","title":null,"axis":{"orient":"top","labels":false,"values":[200,400,600,800,1000,1200,1400,1600,1800]}},
    "y":{"field":"y","type":"quantitative","title":null,"axis":{"orient":"right","labels":false,"values":[0.02,0.025,0.03,0.035]}},
    "detail":{"field":"c","type":"nominal"},
    "color":{"datum":"Closure","type":"nominal"}}}],
 "resolve":{"axis":{"x":"independent","y":"independent"}}},
{"width":959,"height":90,"data":{"name":"freq"},"title":{"text":"Frequency Formant 1","offset":13},
 "layer":[
  {"mark":{"type":"line","interpolate":"monotone","strokeWidth":1.2,"clip":true},
   "encoding":{"x":{"field":"x","type":"quantitative","title":null,"scale":{"domain":[3,1986],"nice":false,"zero":false},"axis":{"orient":"bottom","format":"d","values":[200,400,600,800,1000,1200,1400,1600,1800]}},
    "y":{"field":"y","type":"quantitative","title":null,"scale":{"domain":[336.9,375.1],"nice":false,"zero":false},"axis":{"orient":"left","values":[340,360],"format":"d"}},
    "color":{"datum":"Open","type":"nominal"}}},
  {"transform":[{"filter":"isValid(datum.c)"}],"mark":{"type":"line","interpolate":"monotone","strokeWidth":1.2,"clip":true},
   "encoding":{"x":{"field":"x","type":"quantitative","title":null,"axis":{"orient":"top","labels":false,"values":[200,400,600,800,1000,1200,1400,1600,1800]}},
    "y":{"field":"y","type":"quantitative","title":null,"axis":{"orient":"right","labels":false,"values":[340,360]}},
    "detail":{"field":"c","type":"nominal"},
    "color":{"datum":"Closure","type":"nominal"}}}],
 "resolve":{"axis":{"x":"independent","y":"independent"}}}
],
"config": {
 "font": "Liberation Sans",
 "view": {"stroke": "black", "strokeWidth": 1},
 "axis": {"grid": false, "domain": false, "ticks": true, "tickSize": -7, "tickColor": "black", "tickWidth": 1, "labelFont": "Liberation Sans", "labelFontSize": 21, "labelColor": "black", "labelPadding": 14, "labelOverlap": false, "labelFlush": false, "labelBound": false},
 "axisBottom": {"labelPadding": 11},
 "title": {"font": "Liberation Sans", "fontSize": 21, "fontWeight": "normal", "color": "black"},
 "legend": {"strokeColor": "black", "fillColor": "white", "padding": 8, "cornerRadius": 0, "labelFont": "Liberation Sans", "labelFontSize": 21, "labelColor": "black", "symbolType": "M-2.667,0H2.667", "symbolSize": 576, "symbolStrokeWidth": 1.5, "rowPadding": 5, "labelOffset": 28, "symbolOffset": 26}
}
}
